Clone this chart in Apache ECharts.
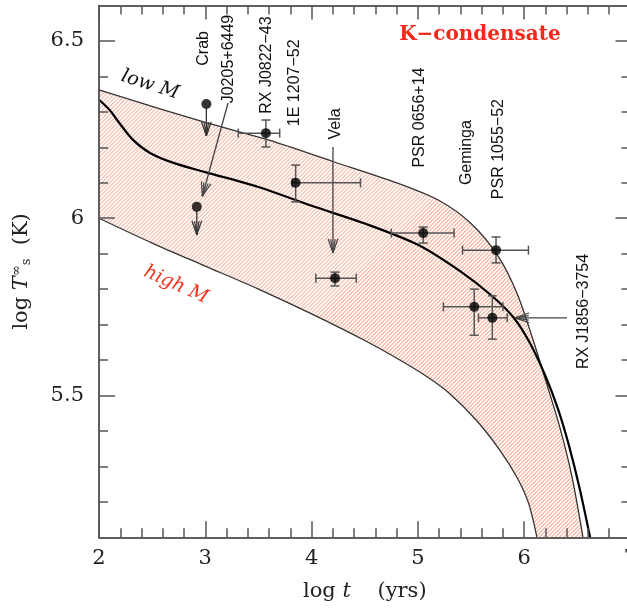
<!DOCTYPE html>
<html>
<head>
<meta charset="utf-8">
<script src="https://cdn.jsdelivr.net/npm/echarts@6/dist/echarts.min.js"></script>
<style>
html, body { margin: 0; padding: 0; background: #fff; }
#chart { width: 627px; height: 609px; }
</style>
</head>
<body>
<div id="chart"></div>
<script>
// cooling curves, log t (yrs) vs log Ts (K)
const lowMassT  = [2.0, 3.0, 3.6, 4.2, 4.8, 5.2, 5.5, 5.75, 5.93, 6.08, 6.22, 6.34, 6.45, 6.553];
const lowMassTs = [6.362, 6.270, 6.220, 6.160, 6.100, 6.050, 5.985, 5.895, 5.790, 5.660, 5.525, 5.405, 5.270, 5.10];

const midT  = [2.0, 2.1, 2.2, 2.32, 2.48, 2.7, 3.0, 3.5, 4.0, 4.5, 5.0, 5.4, 5.7, 5.9, 6.05, 6.2, 6.32, 6.42, 6.52, 6.62];
const midTs = [6.334, 6.305, 6.265, 6.221, 6.184, 6.156, 6.130, 6.088, 6.035, 5.985, 5.925, 5.850, 5.780, 5.720, 5.650, 5.555, 5.460, 5.360, 5.240, 5.10];

const highMassT  = [2.0, 2.5, 3.0, 3.5, 4.0, 4.5, 4.83, 5.1, 5.3, 5.55, 5.77, 5.93, 6.04, 6.12];
const highMassTs = [6.000, 5.930, 5.865, 5.800, 5.730, 5.655, 5.600, 5.550, 5.505, 5.430, 5.346, 5.270, 5.197, 5.10];

// observed sources
const srcNames = ['Crab', 'J0205+6449', 'RX J0822\u221243', '1E 1207\u221252', 'Vela', 'PSR 0656+14', 'Geminga', 'PSR 1055\u221252', 'RX J1856\u22123754'];
const srcT     = [3.01, 2.92, 3.57, 3.85, 4.22, 5.05, 5.53, 5.735, 5.70];
const srcTs    = [6.322, 6.032, 6.240, 6.100, 5.831, 5.958, 5.750, 5.910, 5.719];
const srcTLo   = [null, null, 3.31, 3.82, 4.04, 4.75, 5.24, 5.42, 5.57];
const srcTHi   = [null, null, 3.70, 4.46, 4.42, 5.34, 5.80, 6.04, 5.84];
const srcTsLo  = [null, null, 6.201, 6.046, 5.809, 5.930, 5.670, 5.874, 5.659];
const srcTsHi  = [null, null, 6.277, 6.150, 5.848, 5.975, 5.800, 5.947, 5.781];
// upper limits (Crab, J0205+6449)
const limitIdx = [0, 1];
const limitTo  = [6.232, 5.953];

// source label anchors (log t, log Ts)
const labelT  = [2.985, 3.218, 3.576, 3.844, 4.225, 5.015, 5.462, 5.763, 6.563];
const labelTs = [6.479, 6.449, 6.432, 6.382, 6.266, 6.284, 6.185, 6.195, 5.737];

// pointer arrows [t1, Ts1, t2, Ts2]
const pointerArrows = [
  [3.214, 6.325, 2.972, 6.062],
  [4.201, 6.201, 4.201, 5.902],
  [6.403, 5.719, 5.913, 5.719]
];

const xMajor = [2, 3, 4, 5, 6, 7];
const xMinor = [2.2, 2.4, 2.6, 2.8, 3.2, 3.4, 3.6, 3.8, 4.2, 4.4, 4.6, 4.8, 5.2, 5.4, 5.6, 5.8, 6.2, 6.4, 6.6, 6.8];
const yMajor = [5.5, 6, 6.5];
const yMinor = [5.2, 5.3, 5.4, 5.6, 5.7, 5.8, 5.9, 6.1, 6.2, 6.3, 6.4];

const T_MIN = 2, T_MAX = 7, TS_MIN = 5.1, TS_MAX = 6.6;

const chart = echarts.init(document.getElementById('chart'));

const axisColor = '#555';
const serif = '"DejaVu Serif", serif';

function xAx(position, ticks, len, labels) {
  return {
    type: 'value', min: T_MIN, max: T_MAX, position: position, z: 10,
    axisLine: { show: true, onZero: false, lineStyle: { color: axisColor, width: 1.5 } },
    axisTick: { show: true, inside: true, length: len, customValues: ticks, lineStyle: { color: axisColor, width: 1.5 } },
    axisLabel: labels ? { show: true, customValues: xMajor, margin: 11, color: '#222', fontFamily: serif, fontSize: 21 } : { show: false },
    splitLine: { show: false }
  };
}
function yAx(position, ticks, len, labels) {
  return {
    type: 'value', min: TS_MIN, max: TS_MAX, position: position, z: 10,
    axisLine: { show: true, onZero: false, lineStyle: { color: axisColor, width: 1.5 } },
    axisTick: { show: true, inside: true, length: len, customValues: ticks, lineStyle: { color: axisColor, width: 1.5 } },
    axisLabel: labels ? { show: true, customValues: yMajor, margin: 15, color: '#222', fontFamily: serif, fontSize: 21,
      formatter: function (v) { return String(v); } } : { show: false },
    splitLine: { show: false }
  };
}

const xAxes = [xAx('bottom', xMajor, 16, true), xAx('bottom', xMinor, 9, false), xAx('top', xMajor, 14, false), xAx('top', xMinor, 9, false)];
xAxes[0].name = 'log {it|t}    (yrs)';
xAxes[0].nameLocation = 'middle';
xAxes[0].nameGap = 44;
xAxes[0].nameTextStyle = { color: '#222', fontFamily: serif, fontSize: 21, rich: { it: { fontStyle: 'italic', fontFamily: serif, fontSize: 21, color: '#222' } } };

const yAxes = [yAx('left', yMajor, 16, true), yAx('left', yMinor, 9, false), yAx('right', yMajor, 15, false), yAx('right', yMinor, 9, false)];
yAxes[0].name = 'log {it|T}{sup|\u221e}{sub|s}  (K)';
yAxes[0].nameLocation = 'middle';
yAxes[0].nameRotate = 90;
yAxes[0].nameGap = 66;
yAxes[0].nameTextStyle = { color: '#222', fontFamily: serif, fontSize: 21, rich: {
  it: { fontStyle: 'italic', fontFamily: serif, fontSize: 21, color: '#222' },
  sup: { fontFamily: serif, fontSize: 13, color: '#222', verticalAlign: 'top', padding: [0, 0, 10, 0] },
  sub: { fontFamily: serif, fontSize: 13, color: '#222', verticalAlign: 'bottom', padding: [8, 0, 0, 0] }
} };

function arrowShapes(p1, p2, color) {
  const ang = Math.atan2(p2[1] - p1[1], p2[0] - p1[0]);
  const out = [{ type: 'line', shape: { x1: p1[0], y1: p1[1], x2: p2[0], y2: p2[1] }, style: { stroke: color, lineWidth: 1.3 } }];
  [[0.33, 15], [0.16, 14]].forEach(function (h) {
    [-1, 1].forEach(function (s) {
      out.push({ type: 'line', shape: {
        x1: p2[0], y1: p2[1],
        x2: p2[0] - h[1] * Math.cos(ang + s * h[0]), y2: p2[1] - h[1] * Math.sin(ang + s * h[0])
      }, style: { stroke: color, lineWidth: 1.2 } });
    });
  });
  return out;
}

const errData = [];
srcNames.forEach(function (n, i) {
  if (srcTLo[i] !== null) errData.push([srcT[i], srcTs[i], srcTLo[i], srcTHi[i], srcTsLo[i], srcTsHi[i]]);
});

const lastLowT = lowMassT[lowMassT.length - 1];

const option = {
  animation: false,
  backgroundColor: '#fff',
  grid: { left: 99, right: -3.5, top: 5.5, bottom: 71.7, containLabel: false, outerBoundsMode: 'none' },
  xAxis: xAxes,
  yAxis: yAxes,
  series: [
    {
      // "/" hatching over the plot; the band is cut out by the white fills below
      name: 'band', type: 'custom', z: 1, data: [[T_MIN, TS_MIN]],
      renderItem: function (params, api) {
        const tl = api.coord([T_MIN, TS_MAX]);
        const br = api.coord([T_MAX, TS_MIN]);
        const x0 = tl[0], y0 = tl[1], x1 = br[0], y1 = br[1];
        const st = { stroke: '#f6a890', lineWidth: 1.05 };
        const kids = [];
        for (let c = x0 + y0; c <= x1 + y1; c += 4) {
          const ya = Math.max(y0, c - x1), yb = Math.min(y1, c - x0);
          if (yb <= ya) continue;
          kids.push({ type: 'line', shape: { x1: c - ya, y1: ya, x2: c - yb, y2: yb }, style: st });
        }
        const e = api.coord([lastLowT, TS_MAX]);
        kids.push({ type: 'rect', shape: { x: e[0], y: y0, width: x1 - e[0] + 2, height: y1 - y0 }, style: { fill: '#fff' } });
        return { type: 'group', children: kids };
      }
    },
    {
      name: 'low M', type: 'line', z: 2, smooth: 0.3, symbol: 'none',
      data: lowMassT.map(function (t, i) { return [t, lowMassTs[i]]; }),
      lineStyle: { color: '#333', width: 1.3 },
      areaStyle: { origin: 'end', opacity: 1, color: '#fff' }
    },
    {
      name: 'high M', type: 'line', z: 2, smooth: 0.3, symbol: 'none',
      data: highMassT.map(function (t, i) { return [t, highMassTs[i]]; }),
      lineStyle: { color: '#333', width: 1.3 },
      areaStyle: { origin: 'start', opacity: 1, color: '#fff' }
    },
    {
      name: 'K-condensate', type: 'line', z: 3, smooth: 0.3, symbol: 'none',
      data: midT.map(function (t, i) { return [t, midTs[i]]; }),
      lineStyle: { color: '#000', width: 2.2 }
    },
    {
      name: 'errors', type: 'custom', z: 4, data: errData,
      renderItem: function (params, api) {
        const c = api.coord([api.value(0), api.value(1)]);
        const l = api.coord([api.value(2), api.value(1)]);
        const r = api.coord([api.value(3), api.value(1)]);
        const b = api.coord([api.value(0), api.value(4)]);
        const t = api.coord([api.value(0), api.value(5)]);
        const st = { stroke: '#555', lineWidth: 1.5 };
        const cap = 4.5;
        return { type: 'group', children: [
          { type: 'line', shape: { x1: l[0], y1: c[1], x2: r[0], y2: c[1] }, style: st },
          { type: 'line', shape: { x1: l[0], y1: c[1] - cap, x2: l[0], y2: c[1] + cap }, style: st },
          { type: 'line', shape: { x1: r[0], y1: c[1] - cap, x2: r[0], y2: c[1] + cap }, style: st },
          { type: 'line', shape: { x1: c[0], y1: b[1], x2: c[0], y2: t[1] }, style: st },
          { type: 'line', shape: { x1: c[0] - cap, y1: b[1], x2: c[0] + cap, y2: b[1] }, style: st },
          { type: 'line', shape: { x1: c[0] - cap, y1: t[1], x2: c[0] + cap, y2: t[1] }, style: st }
        ] };
      }
    },
    {
      name: 'limits', type: 'custom', z: 4,
      data: limitIdx.map(function (k, i) { return [srcT[k], srcTs[k], limitTo[i]]; }),
      renderItem: function (params, api) {
        const p1 = api.coord([api.value(0), api.value(1)]);
        const p2 = api.coord([api.value(0), api.value(2)]);
        return { type: 'group', children: arrowShapes([p1[0], p1[1] + 4], p2, '#333') };
      }
    },
    {
      name: 'pointers', type: 'custom', z: 4, data: pointerArrows,
      renderItem: function (params, api) {
        const p1 = api.coord([api.value(0), api.value(1)]);
        const p2 = api.coord([api.value(2), api.value(3)]);
        return { type: 'group', children: arrowShapes(p1, p2, '#444') };
      }
    },
    {
      name: 'sources', type: 'scatter', z: 5, symbol: 'circle', symbolSize: 10,
      data: srcT.map(function (t, i) { return [t, srcTs[i]]; }),
      itemStyle: { color: '#000' }
    },
    {
      name: 'labels', type: 'custom', z: 6,
      data: labelT.map(function (t, i) { return [t, labelTs[i]]; }),
      renderItem: function (params, api) {
        const p = api.coord([api.value(0), api.value(1)]);
        return { type: 'text', x: p[0], y: p[1], rotation: Math.PI / 2,
          style: { text: srcNames[params.dataIndex], fill: '#111', font: '16px "Liberation Sans", Arial, sans-serif',
            align: 'center', verticalAlign: 'middle' } };
      }
    },
    {
      name: 'notes', type: 'custom', z: 6,
      data: [[2.48, 6.376], [2.724, 5.812], [5.584, 6.517]],
      renderItem: function (params, api) {
        const p = api.coord([api.value(0), api.value(1)]);
        const notes = [
          { text: 'low M', fill: '#111', font: 'italic 19px "DejaVu Serif", serif', rot: -0.31 },
          { text: 'high M', fill: '#f2321e', font: 'italic 19px "DejaVu Serif", serif', rot: -0.42 },
          { text: 'K\u2212condensate', fill: '#f2281a', font: 'bold 20px "DejaVu Serif", serif', rot: 0 }
        ];
        const n = notes[params.dataIndex];
        return { type: 'text', x: p[0], y: p[1], rotation: n.rot,
          style: { text: n.text, fill: n.fill, font: n.font, align: 'center', verticalAlign: 'middle' } };
      }
    }
  ]
};

chart.setOption(option);
window.addEventListener('resize', function () { chart.resize(); });
</script>
</body>
</html>
